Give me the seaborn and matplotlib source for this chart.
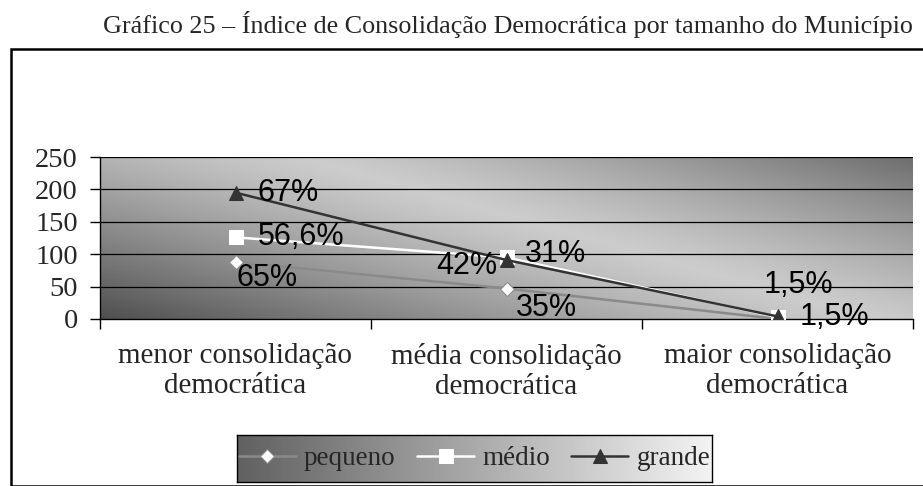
import numpy as np
import pandas as pd
import seaborn as sns
import matplotlib.pyplot as plt
from matplotlib.patches import Rectangle

categorias = ["menor consolidação\ndemocrática", "média consolidação\ndemocrática", "maior consolidação\ndemocrática"]
series = ["pequeno", "médio", "grande"]
pequeno = [88, 47, 0]
medio = [126, 95, 3]
grande = [195, 91, 4]
rot_pequeno = ["65%", "35%", None]
rot_medio = ["56,6%", "42%", "1,5%"]
rot_grande = ["67%", "31%", "1,5%"]
yticks = [0, 50, 100, 150, 200, 250]
titulo = "Gráfico 25 – Índice de Consolidação Democrática por tamanho do Município"

W, H = 923, 486
df = pd.DataFrame({
    "x": list(range(3)) * 3,
    "valor": pequeno + medio + grande,
    "serie": [s for s in series for _ in range(3)],
})

sns.set_style("white")
plt.rcParams["font.family"] = ["Liberation Serif", "DejaVu Serif"]

fig = plt.figure(figsize=(W / 100, H / 100), dpi=100)

# moldura externa
fig.patches.append(Rectangle((11 / W, 0), 1, 1 - 49 / H, transform=fig.transFigure,
                             fill=False, edgecolor="black", linewidth=1.8))
fig.text(103 / W, 1 - 25 / H, titulo, fontsize=18.8, va="center", ha="left")

ax = fig.add_axes([100 / W, 1 - 319 / H, 813 / W, 162 / H])

# fundo em degradê
u, v = np.meshgrid(np.linspace(0, 1, 300), np.linspace(0, 1, 100))
d = np.abs(u + 0.7 * v - 0.95)
g = 0.80 - 0.52 * np.clip(d, 0, 1) ** 1.2
ax.imshow(g, cmap="gray", vmin=0, vmax=1, extent=(-0.5, 2.5, 0, 250),
          origin="lower", aspect="auto", zorder=0)

palette = {"pequeno": "#8a8a8a", "médio": "#ffffff", "grande": "#333333"}
markers = {"pequeno": "D", "médio": "s", "grande": "^"}
sns.lineplot(data=df, x="x", y="valor", hue="serie", style="serie", palette=palette,
             markers=markers, dashes=False, linewidth=1.8, markersize=10,
             ax=ax, legend=True, zorder=3)
for ln in ax.lines:
    if ln.get_color() == "#8a8a8a":
        ln.set_markerfacecolor("white")
        ln.set_markeredgecolor("#8a8a8a")
        ln.set_markersize(7)
    elif ln.get_color() == "#ffffff":
        ln.set_markeredgecolor("white")
    else:
        ln.set_markeredgecolor("#333333")

handles, labels = ax.get_legend_handles_labels()
ax.get_legend().remove()

ax.set_xlim(-0.5, 2.5)
ax.set_ylim(0, 250)
ax.set_yticks(yticks)
ax.set_yticklabels([str(t) for t in yticks], fontsize=20.5)
ax.set_xticks(range(3))
ax.set_xticklabels(categorias, fontsize=21, linespacing=1.2)
ax.set_xticks([-0.5, 0.5, 1.5, 2.5], minor=True)
ax.tick_params(axis="x", which="major", length=0, pad=17)
ax.tick_params(axis="x", which="minor", length=7, width=1, color="black", bottom=True)
ax.tick_params(axis="y", length=7, width=1, color="black", left=True, pad=9)
ax.set_xlabel("")
ax.set_ylabel("")
for yt in yticks[1:]:
    ax.axhline(yt, color="black", linewidth=0.9, zorder=1)
for s in ["top", "right"]:
    ax.spines[s].set_visible(False)
for s in ["left", "bottom"]:
    ax.spines[s].set_color("black")
    ax.spines[s].set_linewidth(1)

# rótulos (deslocamentos em pixels)
desl_pequeno = [(1, -16, "left"), (9, -19, "left"), None]
desl_medio = [(22, 0, "left"), (-9, -9, "right"), (-14, 32, "left")]
desl_grande = [(22, 0, "left"), (18, 6, "left"), (22, -1, "left")]
for vals, rots, desl in [(pequeno, rot_pequeno, desl_pequeno),
                         (medio, rot_medio, desl_medio),
                         (grande, rot_grande, desl_grande)]:
    for i, (val, rot, dd) in enumerate(zip(vals, rots, desl)):
        if rot is None:
            continue
        ax.annotate(rot, (i, val), xytext=(dd[0], dd[1]), textcoords="offset pixels",
                    ha=dd[2], va="center", fontsize=22, color="black",
                    family=["Liberation Sans", "DejaVu Sans"], zorder=5,
                    annotation_clip=False)

# legenda com fundo em degradê
axl = fig.add_axes([237 / W, 1 - 482 / H, 475 / W, 47 / H])
gl = np.tile(np.linspace(0.38, 0.95, 200), (10, 1))
axl.imshow(gl, cmap="gray", vmin=0, vmax=1, extent=(0, 1, 0, 1), aspect="auto")
axl.set_xticks([])
axl.set_yticks([])
for s in axl.spines.values():
    s.set_color("black")
    s.set_linewidth(1)
axl.legend(handles, labels, loc="center", ncol=3, frameon=False, fontsize=19.5,
           handlelength=2.1, columnspacing=0.8, handletextpad=0.3,
           borderaxespad=0)

fig.savefig("out.png", dpi=100)
